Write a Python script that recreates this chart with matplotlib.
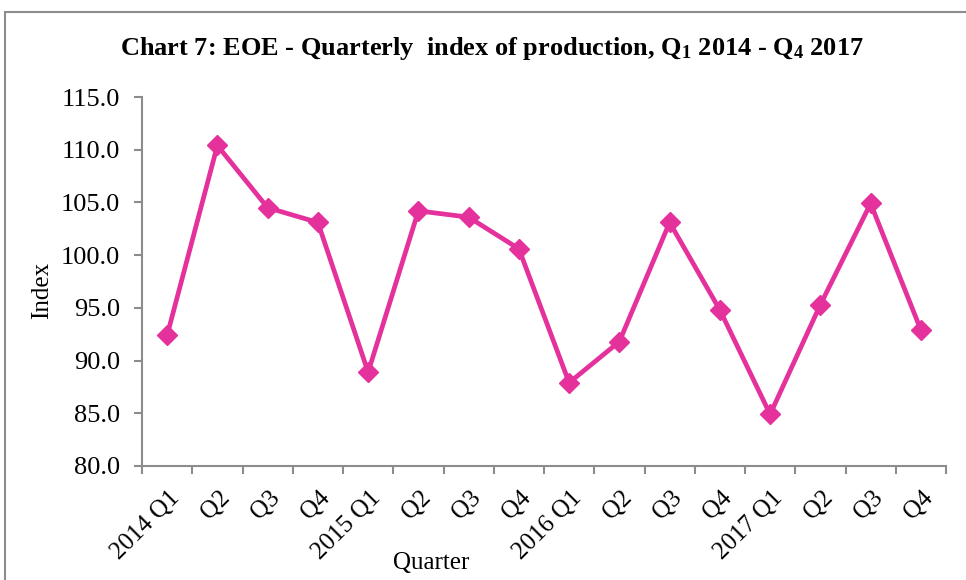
import matplotlib
matplotlib.use("Agg")
import matplotlib.pyplot as plt
from matplotlib.patches import Rectangle
from matplotlib.transforms import ScaledTranslation

plt.rcParams['font.family'] = ['Liberation Serif', 'DejaVu Serif']
plt.rcParams['mathtext.fontset'] = 'custom'
plt.rcParams['mathtext.rm'] = 'Liberation Serif:bold'
plt.rcParams['mathtext.default'] = 'rm'

quarters = ['2014 Q1', 'Q2', 'Q3', 'Q4',
            '2015 Q1', 'Q2', 'Q3', 'Q4',
            '2016 Q1', 'Q2', 'Q3', 'Q4',
            '2017 Q1', 'Q2', 'Q3', 'Q4']
index_values = [92.4, 110.4, 104.5, 103.1,
                88.9, 104.2, 103.6, 100.6,
                87.9, 91.8, 103.1, 94.8,
                84.9, 95.3, 104.9, 92.9]

axis_grey = '#8c8c8c'
line_pink = '#E4319B'

fig = plt.figure(figsize=(9.66, 5.8), dpi=100)
ax = fig.add_axes([142 / 966, 1 - 466 / 580, (946 - 142) / 966, (466 - 97) / 580])

# outer chart border (partly cropped in the original)
fig.patches.append(Rectangle((5 / 966, -0.1), 1.2, 1.1 - 12 / 580,
                             transform=fig.transFigure, fill=False,
                             edgecolor=axis_grey, linewidth=1.5))

x = list(range(len(quarters)))
ax.plot(x, index_values, color=line_pink, linewidth=3.4, marker='D',
        markersize=10, markerfacecolor=line_pink, markeredgecolor=line_pink)

ax.set_xlim(-0.5, len(quarters) - 0.5)
ax.set_ylim(80, 115)
ax.set_yticks(range(80, 116, 5))
ax.set_yticklabels([f'{v:.1f}' for v in range(80, 116, 5)], fontsize=19)

# category ticks sit between the points, labels at the points
ax.set_xticks([i - 0.5 for i in range(len(quarters) + 1)])
ax.set_xticklabels([])
ax.set_xticks(x, minor=True)
ax.set_xticklabels(quarters, minor=True, rotation=45, ha='right',
                   rotation_mode='anchor', fontsize=18)
ax.tick_params(axis='x', which='minor', length=0, pad=15)
ax.tick_params(axis='x', which='major', length=6, width=1.5, color=axis_grey)
ax.tick_params(axis='y', length=6, width=1.5, color=axis_grey, pad=10)
shift = ScaledTranslation(1 / 100, 0, fig.dpi_scale_trans)
for lbl in ax.get_xticklabels(minor=True):
    lbl.set_transform(lbl.get_transform() + shift)

for side in ['top', 'right']:
    ax.spines[side].set_visible(False)
for side in ['left', 'bottom']:
    ax.spines[side].set_color(axis_grey)
    ax.spines[side].set_linewidth(1.5)

ax.set_ylabel('Index', fontsize=18)
ax.yaxis.set_label_coords(-0.11, 0.477)
ax.set_xlabel('Quarter', fontsize=18)
ax.xaxis.set_label_coords(0.36, -0.232)

fig.text(492 / 966, 1 - 48 / 580,
         r'Chart 7: EOE - Quarterly  index of production, Q$_1$ 2014 - Q$_4$ 2017',
         ha='center', va='center', fontsize=19, fontweight='bold')

fig.savefig('out.png', dpi=100)
